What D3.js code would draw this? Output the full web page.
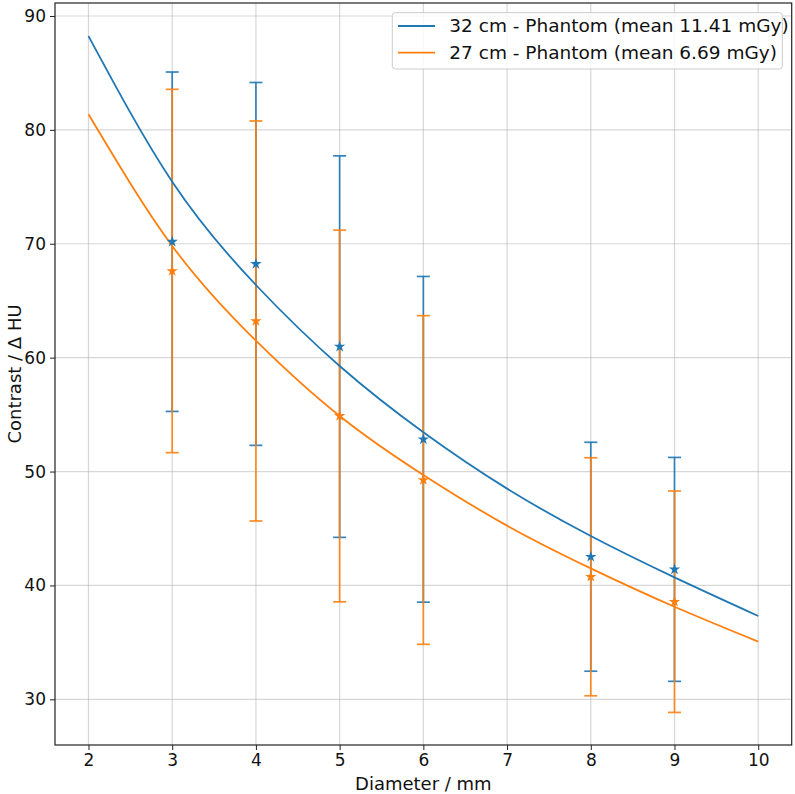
<!DOCTYPE html>
<html>
<head>
<meta charset="utf-8">
<script src="https://cdn.jsdelivr.net/npm/d3@7"></script>
<style>
  html, body { margin: 0; padding: 0; background: #fff; }
  svg { display: block; font-family: "DejaVu Sans", sans-serif; }
</style>
</head>
<body>
<svg id="chart" width="795" height="794"></svg>
<script>
// ---- data ----
const diameters = [3, 4, 5, 6, 8, 9];
const blueMean = [70.18, 68.23, 60.97, 52.83, 42.52, 41.41];
const blueErr  = [14.90, 15.93, 16.75, 14.30, 10.05, 9.83];
const orangeMean = [67.61, 63.22, 54.88, 49.26, 40.76, 38.57];
const orangeErr  = [15.95, 17.56, 16.32, 14.43, 10.45, 9.72];
const fitX = [2, 3, 4, 5, 6, 7, 8, 9, 10];
const fitBlue = [88.24, 75.45, 66.38, 59.27, 53.45, 48.50, 44.34, 40.71, 37.32];
const fitOrange = [81.37, 69.81, 61.49, 54.88, 49.70, 45.25, 41.50, 38.13, 35.07];
const xTicks = [2, 3, 4, 5, 6, 7, 8, 9, 10];
const yTicks = [30, 40, 50, 60, 70, 80, 90];
const seriesNames = ["32 cm - Phantom (mean 11.41 mGy)", "27 cm - Phantom (mean 6.69 mGy)"];
const colors = ["#1f77b4", "#ff7f0e"];

// ---- layout ----
const svg = d3.select("#chart");
const L = 55, R = 791.7, T = 3, B = 745;
const x = d3.scaleLinear().domain([1.6, 10.4]).range([L, R]);
const y = d3.scaleLinear().domain([25.99, 91.14]).range([B, T]);

// grid
const grid = svg.append("g");
grid.selectAll("line.vx").data(xTicks).enter().append("line")
  .attr("x1", d => x(d)).attr("x2", d => x(d)).attr("y1", T).attr("y2", B)
  .attr("stroke", "#b0b0b0").attr("stroke-opacity", 0.5).attr("stroke-width", 1.2);
grid.selectAll("line.hy").data(yTicks).enter().append("line")
  .attr("x1", L).attr("x2", R).attr("y1", d => y(d)).attr("y2", d => y(d))
  .attr("stroke", "#b0b0b0").attr("stroke-opacity", 0.5).attr("stroke-width", 1.2);

// axes
const xAxis = d3.axisBottom(x).tickValues(xTicks).tickSize(5).tickPadding(4).tickFormat(d3.format("d"));
const yAxis = d3.axisLeft(y).tickValues(yTicks).tickSize(5).tickPadding(4).tickFormat(d3.format("d"));
const gx = svg.append("g").attr("transform", `translate(0,${B})`).call(xAxis);
const gy = svg.append("g").attr("transform", `translate(${L},0)`).call(yAxis);
[gx, gy].forEach(g => {
  g.select(".domain").remove();
  g.selectAll("line").attr("stroke", "#222");
  g.selectAll("text").attr("fill", "#111").style("font-size", "17px").style("font-family", "DejaVu Sans");
});

// error bars
const seriesData = [
  diameters.map((d, i) => ({ x: d, m: blueMean[i], e: blueErr[i] })),
  diameters.map((d, i) => ({ x: d, m: orangeMean[i], e: orangeErr[i] }))
];
seriesData.forEach((data, si) => {
  const g = svg.append("g").attr("stroke", colors[si]).attr("stroke-opacity", 0.9).attr("stroke-width", 1.7);
  g.selectAll("line.v").data(data).enter().append("line")
    .attr("x1", d => x(d.x)).attr("x2", d => x(d.x))
    .attr("y1", d => y(d.m + d.e)).attr("y2", d => y(d.m - d.e));
  g.selectAll("line.ct").data(data).enter().append("line")
    .attr("x1", d => x(d.x) - 6.5).attr("x2", d => x(d.x) + 6.5)
    .attr("y1", d => y(d.m + d.e)).attr("y2", d => y(d.m + d.e));
  g.selectAll("line.cb").data(data).enter().append("line")
    .attr("x1", d => x(d.x) - 6.5).attr("x2", d => x(d.x) + 6.5)
    .attr("y1", d => y(d.m - d.e)).attr("y2", d => y(d.m - d.e));
});

// fitted curves
const line = d3.line().x(d => x(d[0])).y(d => y(d[1])).curve(d3.curveNatural);
[fitBlue, fitOrange].forEach((vals, si) => {
  svg.append("path")
    .attr("d", line(fitX.map((xx, i) => [xx, vals[i]])))
    .attr("fill", "none").attr("stroke", colors[si]).attr("stroke-width", 1.8);
});

// star markers
const star = d3.symbol().type(d3.symbolStar).size(40);
seriesData.forEach((data, si) => {
  svg.append("g").selectAll("path").data(data).enter().append("path")
    .attr("d", star)
    .attr("transform", d => `translate(${x(d.x)},${y(d.m)})`)
    .attr("fill", colors[si]);
});

// frame
svg.append("rect").attr("x", L).attr("y", T).attr("width", R - L).attr("height", B - T)
  .attr("fill", "none").attr("stroke", "#222").attr("stroke-width", 1.2);

// axis labels
svg.append("text").attr("x", (L + R) / 2).attr("y", 790)
  .attr("text-anchor", "middle").style("font-size", "18px").attr("fill", "#111")
  .text("Diameter / mm");
svg.append("text").attr("transform", `translate(15,${(T + B) / 2}) rotate(-90)`)
  .attr("text-anchor", "middle").attr("dy", "0.35em").style("font-size", "18px").attr("fill", "#111")
  .text("Contrast / Δ HU");

// legend
const lg = svg.append("g");
lg.append("rect").attr("x", 392.3).attr("y", 12.7).attr("width", 390).attr("height", 56.3)
  .attr("rx", 3).attr("fill", "#fff").attr("fill-opacity", 0.8).attr("stroke", "#cccccc").attr("stroke-width", 1);
seriesNames.forEach((name, i) => {
  const yy = 26 + i * 26.7;
  lg.append("line").attr("x1", 398).attr("x2", 435).attr("y1", yy).attr("y2", yy)
    .attr("stroke", colors[i]).attr("stroke-width", 1.8);
  lg.append("text").attr("x", 449.3).attr("y", yy).attr("dy", "0.35em")
    .style("font-size", "18.5px").attr("fill", "#111").text(name);
});
</script>
</body>
</html>
